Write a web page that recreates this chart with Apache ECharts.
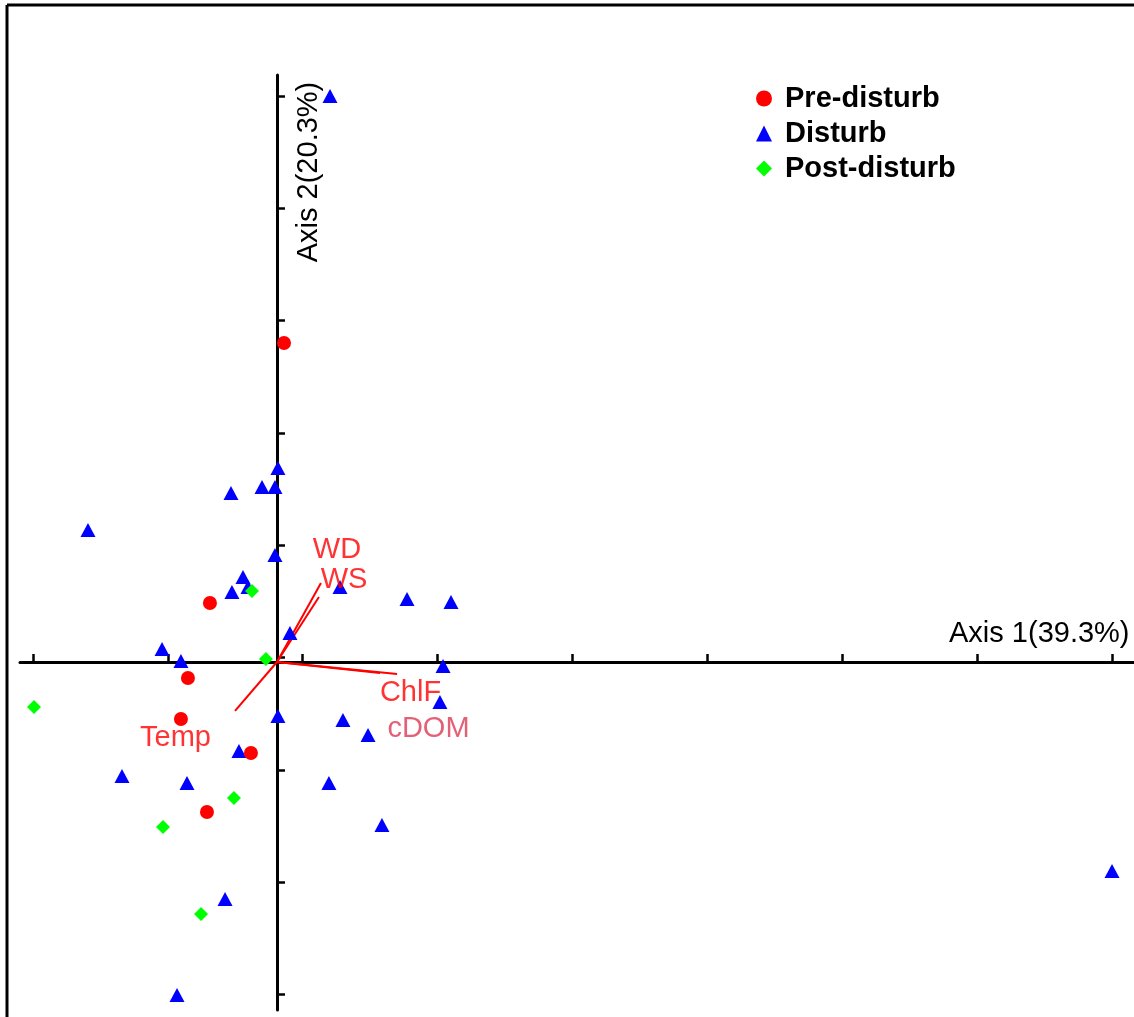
<!DOCTYPE html>
<html>
<head>
<meta charset="utf-8">
<script src="https://cdn.jsdelivr.net/npm/echarts@6/dist/echarts.min.js"></script>
<style>
html,body{margin:0;padding:0;background:#fff;}
#chart{width:1134px;height:1017px;}
</style>
</head>
<body>
<div id="chart"></div>
<script>
// ---- data (ordination scores, axis units = tick spacing) ----
const preDisturb = [
  [0.052, 2.841], [-0.497, 0.525], [-0.660, -0.142],
  [-0.712, -0.508], [-0.193, -0.810], [-0.519, -1.336]
];
const disturb = [
  [0.393, 5.040], [0.007, 1.728], [-0.341, 1.505], [-0.111, 1.558],
  [-0.015, 1.558], [-1.401, 1.175], [-0.015, 0.953], [-0.252, 0.757],
  [-0.215, 0.668], [-0.334, 0.623], [0.467, 0.668], [0.964, 0.561],
  [1.290, 0.534], [0.096, 0.258], [-0.852, 0.116], [-0.712, 0.009],
  [1.231, -0.036], [1.208, -0.356], [0.007, -0.481], [0.489, -0.516],
  [0.675, -0.650], [-0.282, -0.793], [-1.149, -1.015], [-0.667, -1.077],
  [0.385, -1.077], [0.778, -1.451], [-0.385, -2.110], [-0.741, -2.965],
  [6.190, -1.861]
];
const postDisturb = [
  [-1.801, -0.401], [-0.185, 0.632], [-0.082, 0.027],
  [-0.319, -1.211], [-0.845, -1.469], [-0.563, -2.244]
];
const vectorNames = ['WD', 'WS', 'ChlF', 'cDOM', 'Temp'];
const vectorEnds = [[0.326, 0.703], [0.311, 0.579], [0.890, -0.107], [0.764, -0.098], [-0.311, -0.436]];
const vectorLabelAt = [[0.445, 1.000], [0.497, 0.730], [0.990, -0.275], [1.123, -0.601], [-0.752, -0.680]];
const vectorLabelColors = ['#ff0000', '#ff0000', '#ff0000', '#dc3a55', '#ff0000'];
const xTicks = [-1.809, -0.809, 0.191, 1.191, 2.191, 3.191, 4.191, 5.191, 6.191];
const yTicks = [-2.960, -1.960, -0.960, 0.040, 1.040, 2.040, 3.040, 4.040, 5.040];
const axis1Name = 'Axis 1(39.3%)';
const axis2Name = 'Axis 2(20.3%)';
const groupNames = ['Pre-disturb', 'Disturb', 'Post-disturb'];

const FONT = 'Liberation Sans, Arial, sans-serif';
const chart = echarts.init(document.getElementById('chart'));

const axisCommon = {
  type: 'value',
  splitLine: { show: false },
  axisLabel: { show: false },
  axisLine: { show: true, onZero: true, lineStyle: { color: '#000', width: 3 } },
  axisTick: { show: true, inside: true, length: 8, lineStyle: { color: '#000', width: 2.5 } }
};

const option = {
  backgroundColor: '#fff',
  animation: false,
  grid: { left: 20, right: 0, top: 75, bottom: 7, containLabel: false },
  xAxis: Object.assign({}, axisCommon, {
    min: -1.905, max: 6.353,
    axisTick: Object.assign({}, axisCommon.axisTick, { customValues: xTicks })
  }),
  yAxis: Object.assign({}, axisCommon, {
    min: -3.099, max: 5.227,
    axisTick: Object.assign({}, axisCommon.axisTick, { customValues: yTicks })
  }),
  legend: {
    data: groupNames,
    orient: 'vertical',
    left: 751, top: 76,
    itemWidth: 16, itemHeight: 16, itemGap: 0,
    textStyle: { fontFamily: FONT, fontSize: 29, fontWeight: 'bold', color: '#000', lineHeight: 35, padding: [0, 0, 0, 8] }
  },
  graphic: [
    { type: 'line', silent: true, z: 100,
      shape: { x1: 7, y1: 5, x2: 1140, y2: 5 },
      style: { stroke: '#000', lineWidth: 3 } },
    { type: 'line', silent: true, z: 100,
      shape: { x1: 7, y1: 5, x2: 7, y2: 1030 },
      style: { stroke: '#000', lineWidth: 3 } },
    { type: 'text', silent: true, x: 949, y: 634,
      style: { text: axis1Name, font: '29px ' + FONT, fill: '#000', align: 'left', verticalAlign: 'middle' } },
    { type: 'text', silent: true, x: 309, y: 172, rotation: Math.PI / 2,
      style: { text: axis2Name, font: '29px ' + FONT, fill: '#000', align: 'center', verticalAlign: 'middle' } }
  ],
  series: [
    {
      type: 'lines', coordinateSystem: 'cartesian2d', silent: true, z: 2,
      symbol: 'none',
      lineStyle: { color: '#ff0000', width: 2, opacity: 1 },
      data: vectorEnds.map(e => ({ coords: [[0, 0], e] }))
    },
    {
      name: 'Disturb', type: 'scatter', symbol: 'triangle', symbolSize: [15, 14], z: 3,
      itemStyle: { color: '#0000ff', opacity: 1 }, data: disturb
    },
    {
      name: 'Pre-disturb', type: 'scatter', symbol: 'circle', symbolSize: 14, z: 4,
      itemStyle: { color: '#ff0000', opacity: 1 }, data: preDisturb
    },
    {
      name: 'Post-disturb', type: 'scatter', symbol: 'diamond', symbolSize: 14, z: 5,
      itemStyle: { color: '#00ff00', opacity: 1 }, data: postDisturb
    },
    {
      type: 'scatter', silent: true, z: 6, symbolSize: 1,
      itemStyle: { color: 'rgba(0,0,0,0)' },
      label: { show: true, position: 'inside', formatter: '{b}', fontFamily: FONT, fontSize: 29 },
      data: vectorNames.map((n, i) => ({
        name: n, value: vectorLabelAt[i],
        label: { color: vectorLabelColors[i] }
      }))
    }
  ]
};
chart.setOption(option);
</script>
</body>
</html>
